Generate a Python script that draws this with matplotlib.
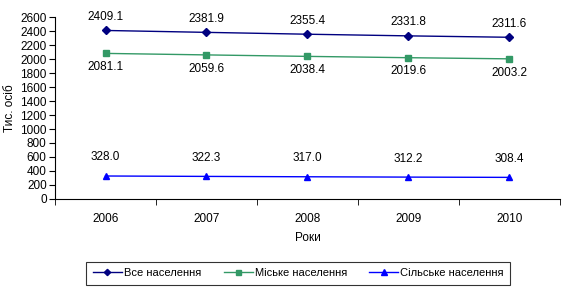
import matplotlib.pyplot as plt
import numpy as np

plt.rcParams['font.family'] = ['Liberation Sans', 'DejaVu Sans']

years = ['2006', '2007', '2008', '2009', '2010']
vse = [2409.1, 2381.9, 2355.4, 2331.8, 2311.6]
miske = [2081.1, 2059.6, 2038.4, 2019.6, 2003.2]
silske = [328.0, 322.3, 317.0, 312.2, 308.4]

fig = plt.figure(figsize=(5.75, 2.9), dpi=100)
ax = fig.add_axes([0.0957, 0.314, 0.878, 0.627])
x = np.arange(len(years))

ax.plot(x, vse, color='#000080', marker='D', markersize=4, lw=1, label='Все населення')
ax.plot(x, miske, color='#339966', marker='s', markersize=4.5, lw=1, label='Міське населення')
ax.plot(x, silske, color='#0000FF', marker='^', markersize=5, lw=1, label='Сільське населення')

for i in x:
    ax.text(i, vse[i] + 110, f'{vse[i]:.1f}', ha='center', va='bottom', fontsize=8.5)
    ax.text(i, miske[i] - 110, f'{miske[i]:.1f}', ha='center', va='top', fontsize=8.5)
    ax.text(i, silske[i] + 180, f'{silske[i]:.1f}', ha='center', va='bottom', fontsize=8.5)

ax.set_xlim(-0.5, len(years) - 0.5)
ax.set_ylim(0, 2600)
ax.set_yticks(np.arange(0, 2601, 200))
ax.set_xticks(x)
ax.set_xticklabels(years)
ax.set_xticks(np.arange(-0.5, len(years)), minor=True)
ax.tick_params(axis='x', which='major', length=0, pad=10, labelsize=8.5)
ax.tick_params(axis='x', which='minor', length=4, direction='out')
ax.tick_params(axis='y', labelsize=8.5, length=4, pad=2)
for s in ['top', 'right']:
    ax.spines[s].set_visible(False)

ax.set_ylabel('Тис. осіб', fontsize=8.5, labelpad=3)
ax.set_xlabel('Роки', fontsize=8.5, labelpad=5)

leg = fig.legend(loc='upper center', bbox_to_anchor=(0.519, 0.117), ncol=3, fontsize=8,
                 frameon=True, fancybox=False, edgecolor='black', handlelength=2.6,
                 handletextpad=0.2, columnspacing=2.0, borderpad=0.6, markerscale=0.8)
leg.get_frame().set_linewidth(0.8)

fig.savefig('out.png', dpi=100)
